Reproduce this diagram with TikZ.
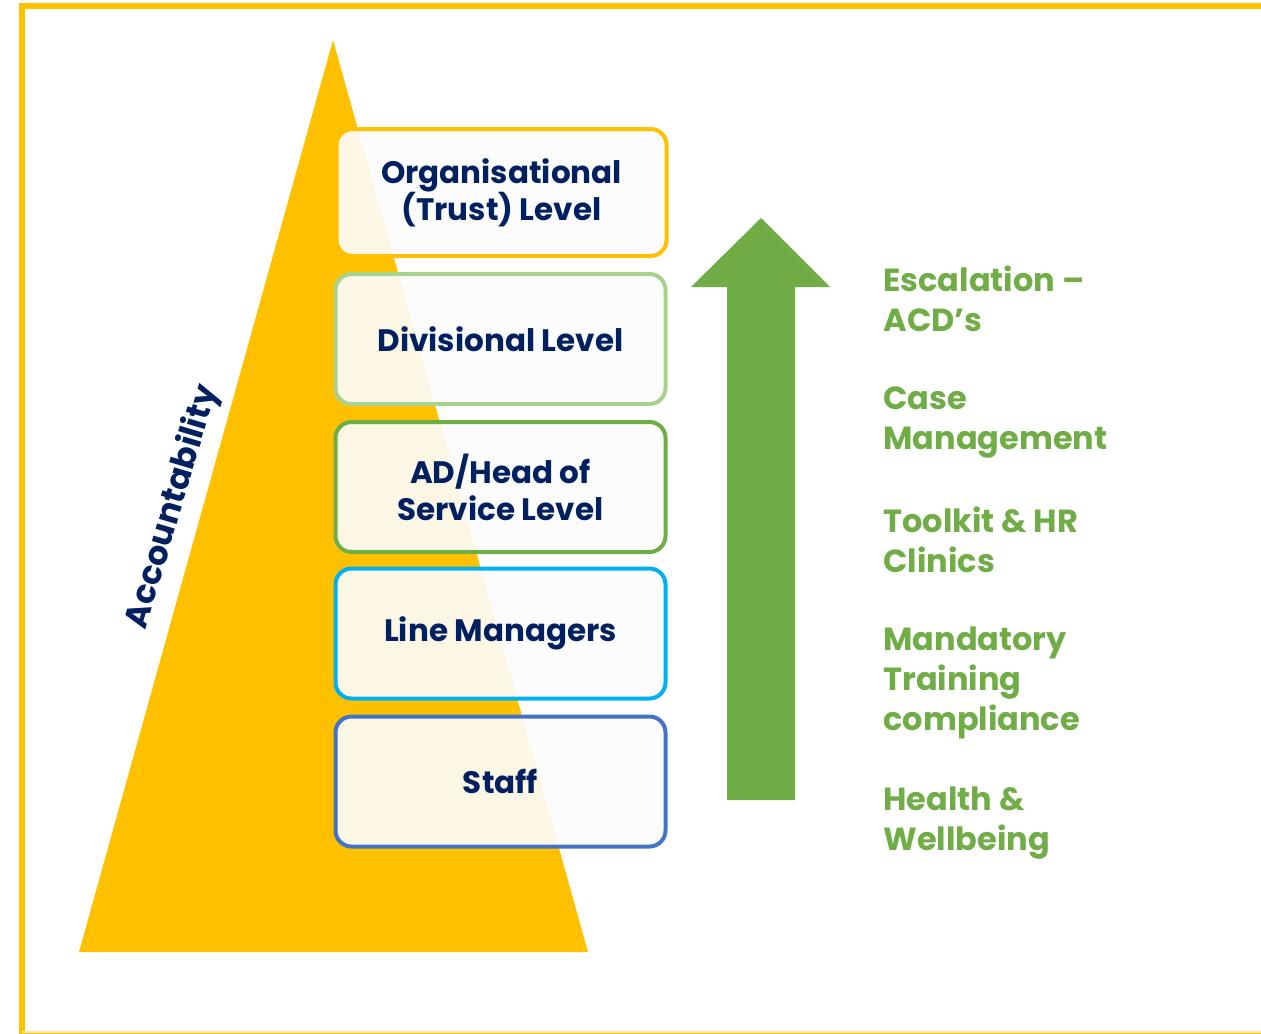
\documentclass[tikz,border=0pt]{standalone}
\usepackage{fontspec}
\setmainfont{Poppins}
\definecolor{gold}{HTML}{FFC000}
\definecolor{navy}{HTML}{002060}
\definecolor{leaf}{HTML}{70AD47}
\definecolor{paleleaf}{HTML}{A9D18E}
\definecolor{sky}{HTML}{00B0F0}
\definecolor{steel}{HTML}{4472C4}
\begin{document}
\begin{tikzpicture}[x=0.5pt,y=-0.5pt,
  levelbox/.style={draw=#1, line width=2pt, rounded corners=8pt,
    fill=white!99!black, fill opacity=0.91, text opacity=1,
    minimum width=165pt, minimum height=65pt, inner sep=0pt,
    align=center, text=navy, font=\bfseries\fontsize{15.5}{18.5}\selectfont},
  sidenote/.style={text=leaf, font=\bfseries\fontsize{16}{20}\selectfont,
    align=left, anchor=north west, inner sep=0pt}]
\useasboundingbox (0,0) rectangle (1261,1033);
\clip (0,0) rectangle (1261,1033);

% outer frame
\draw[gold, line width=3pt] (22,6) rectangle (1300,1036);
\fill[gold!35] (22,1031) rectangle (1261,1033);

% accountability pyramid
\fill[gold] (333,40) -- (588,952) -- (79,952) -- cycle;
\node[rotate=73.5, text=navy, font=\bfseries\fontsize{16.5}{20}\selectfont]
  (acc) at (173,507) {Accountability};

% levels
\node[levelbox=gold, minimum width=165pt, minimum height=63.5pt] (org) at (501.5,192.5)
  {Organisational\\(Trust) Level};
\node[levelbox=paleleaf] (div) at (500.5,339) {Divisional Level};
\node[levelbox=leaf] (ad) at (500.5,487) {AD/Head of\\Service Level};
\node[levelbox=sky] (lm) at (500.5,633.5) {Line Managers};
\node[levelbox=steel] (staff) at (500.5,781.5) {Staff};

% escalation arrow
\fill[leaf] (727,800) -- (727,287) -- (691,287) -- (761,218) -- (830,287)
  -- (795,287) -- (795,800) -- cycle;

% support measures
\node[sidenote] (esc) at (883,265) {Escalation --\\ACD’s};
\node[sidenote] (case) at (883,386) {Case\\Management};
\node[sidenote] (tool) at (883,506) {Toolkit \& HR\\Clinics};
\node[sidenote] (mand) at (883,626) {Mandatory\\Training\\compliance};
\node[sidenote] (hw) at (883,786) {Health \&\\Wellbeing};
\end{tikzpicture}
\end{document}
